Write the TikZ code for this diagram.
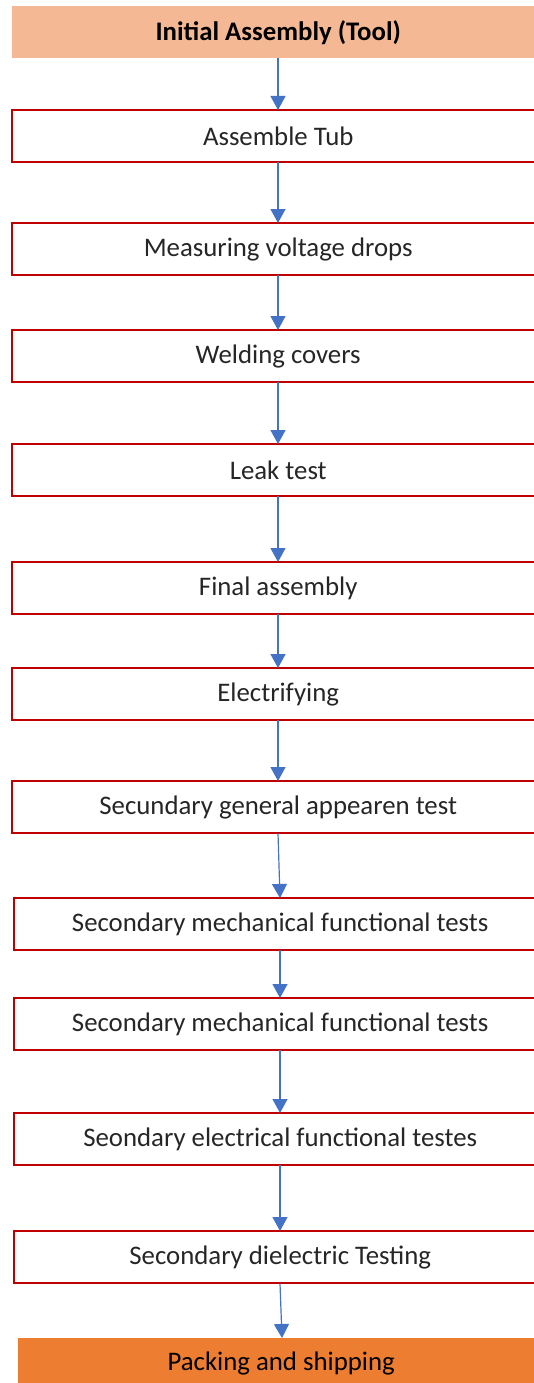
\documentclass[tikz,border=0pt]{standalone}
\usepackage{fontspec}
\setmainfont{Carlito}
\usetikzlibrary{arrows.meta}
\definecolor{peach}{HTML}{F4B994}
\definecolor{orng}{HTML}{ED7D31}
\definecolor{bred}{HTML}{C00000}
\definecolor{ablue}{HTML}{4472C4}
\tikzset{
  stepbox/.style={anchor=north west, minimum width=532pt, minimum height=52pt, inner sep=0pt,
    font=\fontsize{26.8}{30}\selectfont, text=black!85},
  bordr/.style={draw=bred, line width=2pt, line join=miter},
  headbox/.style={fill=peach, anchor=north west, minimum width=532pt, inner sep=0pt,
    font=\bfseries\fontsize{26.8}{30}\selectfont},
  footbox/.style={fill=orng, anchor=north west, minimum width=526pt, inner sep=0pt,
    font=\fontsize{26.8}{30}\selectfont},
  flow/.style={draw=ablue, line width=1.2pt, -{Triangle[length=14pt,width=15pt]}}
}
\begin{document}
\begin{tikzpicture}[x=1pt,y=1pt]
\useasboundingbox (0,0) rectangle (534,-1383);
\clip (0,0) rectangle (534,-1383);
\fill[white] (0,0) rectangle (534,-1383);
\node[headbox, minimum height=52pt] (h) at (12,-6) {Initial Assembly (Tool)};
\node[stepbox] (b1) at (12,-110) {Assemble Tub};
\node[stepbox] (b2) at (12,-223) {Measuring voltage drops};
\node[stepbox] (b3) at (12,-330) {Welding covers};
\node[stepbox] (b4) at (12,-444) {Leak test};
\node[stepbox] (b5) at (12,-562) {Final assembly};
\node[stepbox] (b6) at (12,-668) {Electrifying};
\node[stepbox] (b7) at (12,-781) {Secundary general appearen test};
\node[stepbox] (b8) at (14,-898) {Secondary mechanical functional tests};
\node[stepbox] (b9) at (14,-998) {Secondary mechanical functional tests};
\node[stepbox] (b10) at (14,-1113) {Seondary electrical functional testes};
\node[stepbox] (b11) at (14,-1231) {Secondary dielectric Testing};
\node[footbox, minimum height=50pt] (f) at (18,-1338) {Packing and shipping};
\foreach \n in {b1,b2,b3,b4,b5,b6,b7,b8,b9,b10,b11}
  \draw[bordr] ([xshift=40pt]\n.north east) -- (\n.north west) -- (\n.south west) -- ([xshift=40pt]\n.south east);
\draw[flow] (h.south -| 278,0) -- (b1.north -| 278,0);
\draw[flow] (b1.south -| 278,0) -- (b2.north -| 278,0);
\draw[flow] (b2.south -| 278,0) -- (b3.north -| 278,0);
\draw[flow] (b3.south -| 278,0) -- (b4.north -| 278,0);
\draw[flow] (b4.south -| 278,0) -- (b5.north -| 278,0);
\draw[flow] (b5.south -| 278,0) -- (b6.north -| 278,0);
\draw[flow] (b6.south -| 278,0) -- (b7.north -| 278,0);
\draw[flow] (b7.south -| 278,0) -- (b8.north -| 280,0);
\draw[flow] (b8.south -| 280,0) -- (b9.north -| 280,0);
\draw[flow] (b9.south -| 280,0) -- (b10.north -| 280,0);
\draw[flow] (b10.south -| 280,0) -- (b11.north -| 280,0);
\draw[flow] (b11.south -| 280,0) -- (f.north -| 282,0);
\end{tikzpicture}
\end{document}
